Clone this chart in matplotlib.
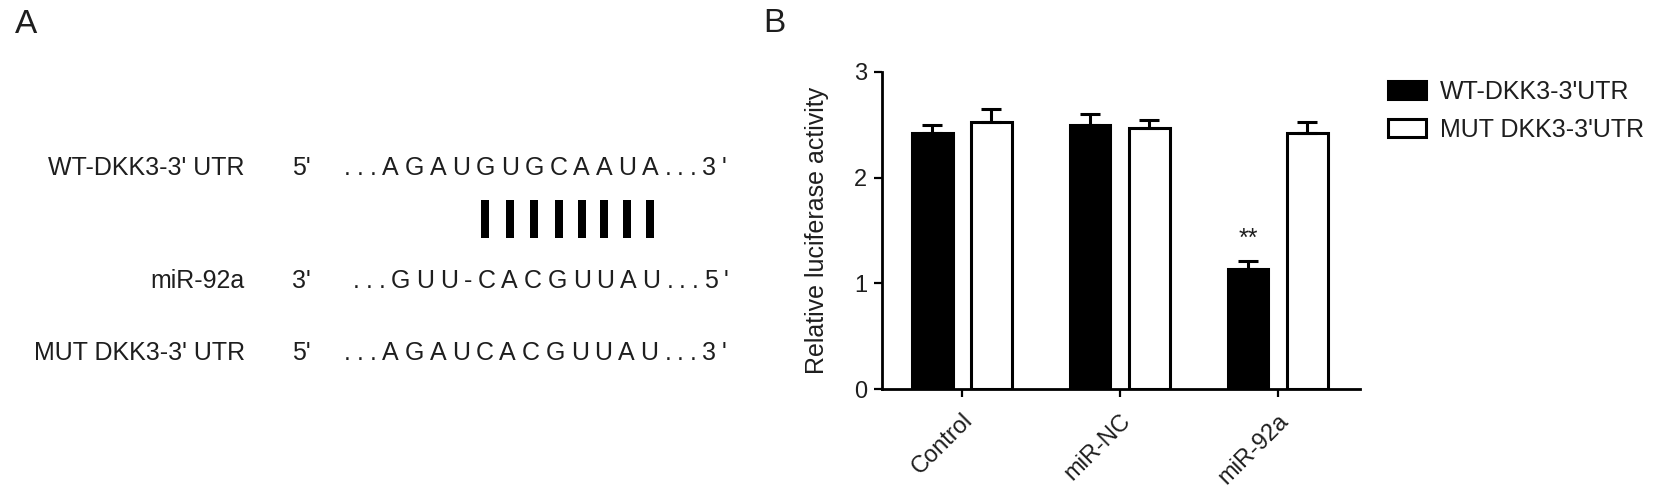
import matplotlib
matplotlib.use('Agg')
import matplotlib.pyplot as plt
import numpy as np
from matplotlib import font_manager, ft2font
from matplotlib.font_manager import FontProperties

plt.rcParams['font.family'] = ['Liberation Sans', 'DejaVu Sans']

# ---------------- Panel A data ----------------
row_labels = ["WT-DKK3-3' UTR", "miR-92a", "MUT DKK3-3' UTR"]
row_left_ends = ["5'", "3'", "5'"]
row_right_ends = ["3'", "5'", "3'"]
row_seqs = ["AGAUGUGCAAUA", "GUU-CACGUUAU", "AGAUCACGUUAU"]
pair_idx = [4, 5, 6, 7, 8, 9, 10, 11]   # paired positions in the WT row

# ---------------- Panel B data ----------------
categories = ["Control", "miR-NC", "miR-92a"]
series_names = ["WT-DKK3-3'UTR", "MUT DKK3-3'UTR"]
wt_vals = [2.42, 2.50, 1.14]
wt_err = [0.08, 0.10, 0.07]
mut_vals = [2.53, 2.47, 2.42]
mut_err = [0.12, 0.08, 0.11]
yticks = [0, 1, 2, 3]
sig_marks = ["", "", "**"]

W, H = 1654, 501
DPI = 100
fig = plt.figure(figsize=(W / DPI, H / DPI), dpi=DPI)
TXT = '#1e1e1e'
PX2PT = 72.0 / DPI

# overlay axes in pixel coordinates for panel A / panel letters
ov = fig.add_axes([0, 0, 1, 1])
ov.set_xlim(0, W)
ov.set_ylim(H, 0)
ov.axis('off')

ov.text(15, 33, 'A', fontsize=24, color=TXT, ha='left', va='baseline')
ov.text(763, 32, 'B', fontsize=24, color=TXT, ha='left', va='baseline')

SEQ_FS = 18
fp = FontProperties(family='Liberation Sans', size=SEQ_FS)
try:
    fpath = font_manager.findfont(fp)
    ftf = ft2font.FT2Font(fpath)
    ftf.set_size(SEQ_FS, DPI)

    def advance(ch):
        g = ftf.load_char(ord(ch))
        return g.linearHoriAdvance / 65536.0
except Exception:
    widths = {'A': .667, 'G': .778, 'U': .722, 'C': .722, '-': .333,
              '.': .278, '3': .556, '5': .556, "'": .191}

    def advance(ch):
        return widths.get(ch, .6) * SEQ_FS / PX2PT

TRACK = 5.7
baselines = [175, 288, 360]
label_right = 245
end_left = 292
seq_start = [344, 353, 344]

wt_centers = []
for r in range(3):
    yb = baselines[r]
    ov.text(label_right, yb, row_labels[r], fontsize=SEQ_FS, color=TXT,
            ha='right', va='baseline')
    ov.text(end_left, yb, row_left_ends[r], fontsize=SEQ_FS, color=TXT,
            ha='left', va='baseline')
    full = "..." + row_seqs[r] + "..." + row_right_ends[r]
    xpos = seq_start[r]
    for i, ch in enumerate(full):
        a = advance(ch)
        ov.text(xpos + a / 2, yb, ch, fontsize=SEQ_FS, color=TXT,
                ha='center', va='baseline')
        if r == 0 and 3 <= i < 3 + len(row_seqs[0]):
            wt_centers.append(xpos + a / 2)
        xpos += a + TRACK

for k in pair_idx:
    ov.plot([wt_centers[k], wt_centers[k]], [200, 238], color='black',
            linewidth=8 * PX2PT, solid_capstyle='butt')

# ---------------- Panel B ----------------
ax = fig.add_axes([882 / W, 1 - 389 / H, (1360 - 882) / W, (389 - 72) / H])
x = np.arange(len(categories))
off = 0.187
bw = 0.255
lw = 2.2

ax.bar(x - off, wt_vals, bw, color='black', edgecolor='black', linewidth=lw,
       label=series_names[0], zorder=2)
ax.bar(x + off, mut_vals, bw, color='white', edgecolor='black', linewidth=lw,
       label=series_names[1], zorder=2)
ax.errorbar(x - off, wt_vals, yerr=[np.zeros(len(x)), wt_err], fmt='none',
            ecolor='black', elinewidth=lw, capsize=7, capthick=lw, zorder=3)
ax.errorbar(x + off, mut_vals, yerr=[np.zeros(len(x)), mut_err], fmt='none',
            ecolor='black', elinewidth=lw, capsize=7, capthick=lw, zorder=3)

for i, m in enumerate(sig_marks):
    if m:
        ax.annotate(m, xy=(x[i] - off, wt_vals[i] + wt_err[i]),
                    xytext=(0, 11), textcoords='offset points',
                    ha='center', va='baseline', fontsize=18, color=TXT)

ax.set_xlim(-0.506, 2.52)
ax.set_ylim(0, 3)
ax.set_yticks(yticks)
ax.set_xticks(x)
ax.set_xticklabels(categories, rotation=45, ha='right', va='top',
                   rotation_mode='anchor')
for s in ['top', 'right']:
    ax.spines[s].set_visible(False)
for s in ['left', 'bottom']:
    ax.spines[s].set_linewidth(2.0)
ax.tick_params(axis='both', direction='out', length=5.8, width=1.6,
               labelsize=17, labelcolor=TXT, pad=5)
ax.tick_params(axis='x', pad=9)
ax.set_ylabel('Relative luciferase activity', fontsize=18, color=TXT)
ax.yaxis.set_label_coords(-0.111, 0.5)

ax.legend(loc='upper left', bbox_to_anchor=(1388 / W, 1 - 80 / H),
          bbox_transform=fig.transFigure, frameon=False, fontsize=18,
          handlelength=1.52, handleheight=0.72, handletextpad=0.56,
          labelspacing=0.55, borderpad=0, borderaxespad=0, labelcolor=TXT)

fig.savefig('out.png', dpi=DPI)
